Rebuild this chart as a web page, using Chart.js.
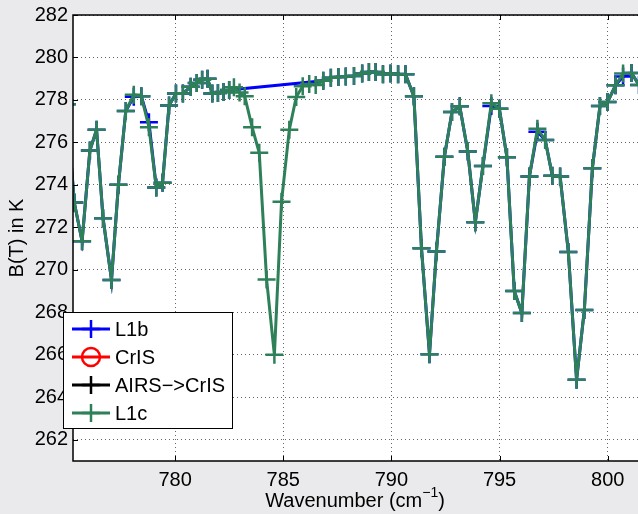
<!DOCTYPE html>
<html>
<head>
<meta charset="utf-8">
<script src="https://cdn.jsdelivr.net/npm/chart.js@4.4.1/dist/chart.umd.min.js"></script>
<style>
  html, body { margin: 0; padding: 0; background: #eaeaec; }
  #graph-div { display: block; }
</style>
</head>
<body>
<canvas id="graph-div" width="638" height="514"></canvas>
<script>
// channel wavenumbers (cm-1) and brightness temps
const wavenumbers = [
  774.99, 775.34, 775.70, 776.06, 776.37, 776.67, 777.06, 777.38, 777.72, 778.09,
  778.44, 778.79, 779.13, 779.42, 779.72, 780.04, 780.36, 780.72, 781.00, 781.25,
  781.50, 781.72, 781.98, 782.24, 782.50, 782.72, 782.98, 783.22, 783.56, 783.89,
  784.23, 784.59, 784.92, 785.28, 785.60, 785.90, 786.20, 786.50, 786.85, 787.20,
  787.55, 787.89, 788.27, 788.65, 788.96, 789.27, 789.61, 789.96, 790.31, 790.65,
  791.04, 791.39, 791.76, 792.08, 792.45, 792.80, 793.16, 793.53, 793.88, 794.23,
  794.62, 794.99, 795.34, 795.68, 796.03, 796.38, 796.75, 797.11, 797.44, 797.80,
  798.18, 798.56, 798.92, 799.29, 799.64, 799.99, 800.36, 800.71, 801.10, 801.45
];
const l1cBT = [
  277.8, 273.17, 271.35, 275.62, 276.6, 272.43, 269.52, 274.01, 277.48, 278.25,
  278.17, 276.72, 273.88, 274.1, 277.74, 278.3, 278.3, 278.62, 278.8, 278.95,
  279.0, 278.3, 278.33, 278.38, 278.47, 278.6, 278.35, 278.17, 276.72, 275.51,
  269.55, 266.0, 273.21, 276.6, 278.14, 278.65, 278.75, 278.7, 278.9, 279.05,
  279.08, 279.1, 279.13, 279.24, 279.32, 279.32, 279.21, 279.24, 279.21, 279.21,
  278.17, 271.02, 266.03, 270.86, 275.33, 277.43, 277.7, 275.57, 272.24, 274.89,
  277.85, 277.59, 275.3, 269.0, 267.97, 274.4, 276.64, 276.12, 274.43, 274.39,
  270.84, 264.82, 268.11, 274.78, 277.71, 277.9, 278.69, 279.24, 279.27, 278.7
];
// L1b has no channels between ~782.7 and ~786.5
const l1bBT = [
  277.8, 273.17, 271.35, 275.62, 276.6, 272.43, 269.52, 274.01, 277.48, 278.15,
  278.17, 276.95, 273.88, 274.1, 277.74, 278.3, 278.3, 278.62, 278.8, 278.95,
  279.0, 278.3, 278.33, 278.38, 278.47, null, null, null, null, null,
  null, null, null, null, null, null, null, null, 278.9, 279.05,
  279.08, 279.1, 279.13, 279.24, 279.32, 279.32, 279.21, 279.24, 279.21, 279.21,
  278.17, 271.02, 266.03, 270.86, 275.33, 277.43, 277.7, 275.57, 272.24, 274.89,
  277.72, 277.59, 275.3, 269.0, 267.97, 274.4, 276.5, 276.12, 274.43, 274.39,
  270.84, 264.82, 268.11, 274.78, 277.71, 277.9, 278.69, 279.1, 279.27, 278.7
];
const crisBT = [];
const airsToCrisBT = [];

const xTicks = [780, 785, 790, 795, 800];
const yTicks = [262, 264, 266, 268, 270, 272, 274, 276, 278, 280, 282];

const seriesNames = ['L1b', 'CrIS', 'AIRS\u2212>CrIS', 'L1c'];
const seriesColors = ['#0000ff', '#ff0000', '#000000', 'rgb(46,128,88)'];
const seriesMarkers = ['cross', 'circle', 'cross', 'cross'];

const FONT = 'Liberation Sans, Arial, Helvetica, sans-serif';

function toPoints(ys) {
  let pts = [];
  for (let i = 0; i < ys.length; i++) {
    pts.push({ x: wavenumbers[i], y: ys[i] });
  }
  return pts;
}

function makeSet(idx, ys) {
  return {
    label: seriesNames[idx],
    data: ys,
    order: seriesNames.length - idx, // later series plotted on top, like matlab
    borderColor: seriesColors[idx],
    backgroundColor: 'rgba(0,0,0,0)',
    borderWidth: 3,
    pointStyle: seriesMarkers[idx],
    pointRadius: 9,
    pointBorderWidth: 2.5,
    pointBorderColor: seriesColors[idx],
    pointBackgroundColor: 'rgba(0,0,0,0)',
    tension: 0,
    spanGaps: true
  };
}

// gray figure, white axes, box, inward ticks, axis titles, matlab-ish legend
const matlabLook = {
  id: 'matlabLook',
  beforeDraw(chart) {
    const c = chart.ctx;
    const a = chart.chartArea;
    c.save();
    c.fillStyle = '#eaeaec';
    c.fillRect(0, 0, chart.width, chart.height);
    c.fillStyle = '#ffffff';
    c.fillRect(a.left, a.top, a.right - a.left, a.bottom - a.top);
    c.restore();
  },
  afterDraw(chart) {
    const c = chart.ctx;
    const a = chart.chartArea;
    const xs = chart.scales.x;
    const ys = chart.scales.y;
    c.save();
    c.strokeStyle = '#000';
    c.lineWidth = 1.5;
    c.strokeRect(a.left, a.top, a.right - a.left + 4, a.bottom - a.top);
    c.lineWidth = 1;
    c.beginPath();
    xTicks.forEach(v => {
      const px = Math.round(xs.getPixelForValue(v)) + 0.5;
      c.moveTo(px, a.bottom); c.lineTo(px, a.bottom - 5);
      c.moveTo(px, a.top); c.lineTo(px, a.top + 5);
    });
    yTicks.forEach(v => {
      const py = Math.round(ys.getPixelForValue(v)) + 0.5;
      c.moveTo(a.left, py); c.lineTo(a.left + 5, py);
    });
    c.stroke();

    // axis titles
    c.fillStyle = '#000';
    c.font = '20px ' + FONT;
    c.textBaseline = 'middle';
    c.textAlign = 'center';
    c.save();
    c.translate(17, (a.top + a.bottom) / 2);
    c.rotate(-Math.PI / 2);
    c.fillText('B(T) in K', 0, 0);
    c.restore();

    const main = 'Wavenumber (cm';
    const sup = '\u22121';
    c.font = '20px ' + FONT;
    const w1 = c.measureText(main).width;
    const w3 = c.measureText(')').width;
    c.font = '14px ' + FONT;
    const w2 = c.measureText(sup).width;
    let tx = 355 - (w1 + w2 + w3) / 2;
    const ty = 501;
    c.textAlign = 'left';
    c.font = '20px ' + FONT;
    c.fillText(main, tx, ty);
    c.font = '14px ' + FONT;
    c.fillText(sup, tx + w1, ty - 8);
    c.font = '20px ' + FONT;
    c.fillText(')', tx + w1 + w2, ty);

    // legend box
    const bx = 63.5, by = 312.5, bw = 169, bh = 116;
    c.fillStyle = '#fff';
    c.fillRect(bx, by, bw, bh);
    c.strokeStyle = '#000';
    c.lineWidth = 1;
    c.strokeRect(bx, by, bw, bh);
    const rowY = [329, 357, 385, 413];
    for (let i = 0; i < seriesNames.length; i++) {
      const col = seriesColors[i];
      c.strokeStyle = col;
      c.lineWidth = 3;
      c.beginPath();
      c.moveTo(72, rowY[i]); c.lineTo(110, rowY[i]);
      c.stroke();
      c.lineWidth = 2.5;
      c.beginPath();
      if (seriesMarkers[i] === 'circle') {
        c.arc(91, rowY[i], 9, 0, Math.PI * 2);
      } else {
        c.moveTo(82, rowY[i]); c.lineTo(100, rowY[i]);
        c.moveTo(91, rowY[i] - 9); c.lineTo(91, rowY[i] + 9);
      }
      c.stroke();
      c.fillStyle = '#000';
      c.font = '20px ' + FONT;
      c.textAlign = 'left';
      c.fillText(seriesNames[i], 115, rowY[i] + 1);
    }
    c.restore();
  }
};

const ctx = document.getElementById('graph-div').getContext('2d');

let myChart = new Chart(ctx, {
  type: 'line',
  data: {
    datasets: [
      makeSet(0, toPoints(l1bBT)),
      makeSet(1, crisBT),
      makeSet(2, airsToCrisBT),
      makeSet(3, toPoints(l1cBT))
    ]
  },
  options: {
    responsive: false,
    animation: false,
    devicePixelRatio: 1,
    layout: { autoPadding: false, padding: { top: 15, right: 0, bottom: 0, left: 0 } },
    plugins: {
      legend: { display: false },
      tooltip: { enabled: false }
    },
    scales: {
      x: {
        type: 'linear',
        min: 775.28,
        max: 801.4,
        afterFit: s => { s.height = 53; s.paddingLeft = 0; s.paddingRight = 0; },
        afterBuildTicks: s => { s.ticks = xTicks.map(v => ({ value: v })); },
        ticks: { color: '#000', font: { size: 20, family: FONT }, padding: 7, maxRotation: 0, autoSkip: false },
        grid: { color: '#666', lineWidth: 1, drawTicks: false },
        border: { display: false, dash: [1, 3] }
      },
      y: {
        min: 261,
        max: 282,
        afterFit: s => { s.width = 73; s.paddingTop = 0; s.paddingBottom = 0; },
        afterBuildTicks: s => { s.ticks = yTicks.map(v => ({ value: v })); },
        ticks: { color: '#000', font: { size: 20, family: FONT }, padding: 5, autoSkip: false },
        grid: { color: '#666', lineWidth: 1, drawTicks: false },
        border: { display: false, dash: [1, 3] }
      }
    }
  },
  plugins: [matlabLook]
});
</script>
</body>
</html>
